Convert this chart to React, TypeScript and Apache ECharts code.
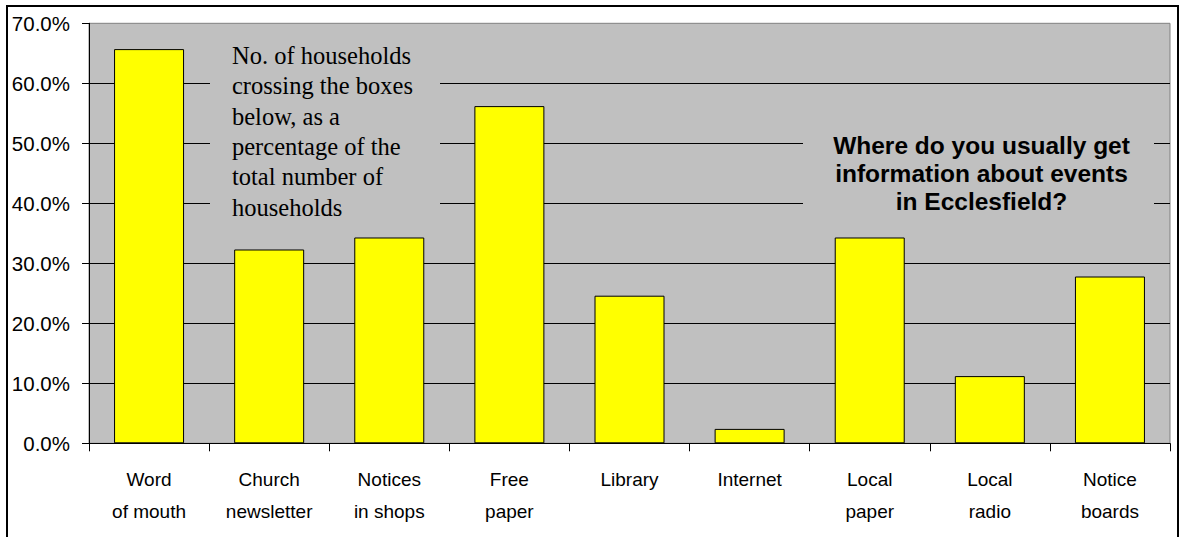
import React, { useEffect, useRef } from "react";
import * as echarts from "echarts";

const categories = [
  "Word\nof mouth",
  "Church\nnewsletter",
  "Notices\nin shops",
  "Free\npaper",
  "Library",
  "Internet",
  "Local\npaper",
  "Local\nradio",
  "Notice\nboards",
];
const percentages = [65.7, 32.3, 34.3, 56.2, 24.6, 2.4, 34.3, 11.2, 27.8];
const yMin = 0;
const yMax = 70;
const yStep = 10;
const noteLines = [
  "No. of households",
  "crossing the boxes",
  "below, as a",
  "percentage of the",
  "total number of",
  "households",
];
const titleLines = [
  "Where do you usually get",
  "information about events",
  "in Ecclesfield?",
];

export default function App() {
  const ref = useRef<HTMLDivElement>(null);
  useEffect(() => {
    if (!ref.current) return;
    const chart = echarts.init(ref.current, null, { renderer: "svg" });
    chart.setOption({
      animation: false,
      backgroundColor: "#ffffff",
      grid: {
        left: 89,
        top: 23.3,
        right: 9,
        bottom: 93.7,
        show: true,
        backgroundColor: "#C0C0C0",
        borderColor: "#808080",
        borderWidth: 1,
      },
      xAxis: {
        type: "category",
        data: categories,
        boundaryGap: true,
        axisLine: { show: true, lineStyle: { color: "#000", width: 1 } },
        axisTick: { show: true, length: 8, alignWithLabel: false, lineStyle: { color: "#000" } },
        axisLabel: {
          interval: 0,
          margin: 20,
          color: "#000",
          fontFamily: "Arial, 'Liberation Sans', sans-serif",
          fontSize: 19,
          lineHeight: 32,
        },
        splitLine: { show: false },
      },
      yAxis: {
        type: "value",
        min: yMin,
        max: yMax,
        interval: yStep,
        axisLine: { show: true, lineStyle: { color: "#000", width: 1 } },
        axisTick: { show: true, inside: false, length: 7, lineStyle: { color: "#000" } },
        axisLabel: {
          margin: 19,
          color: "#000",
          fontFamily: "Arial, 'Liberation Sans', sans-serif",
          fontSize: 20.5,
          formatter: (v: number) => v.toFixed(1) + "%",
        },
        splitLine: {
          show: true,
          showMaxLine: false,
          lineStyle: { color: "#000", width: 1 },
        },
      },
      series: [
        {
          type: "bar",
          data: percentages,
          barWidth: 70,
          z: 5,
          itemStyle: { color: "#FFFF00", borderColor: "#000", borderWidth: 1 },
        },
      ],
      graphic: [
        {
          type: "rect",
          silent: true,
          shape: { x: 210, y: 30, width: 230, height: 202 },
          style: { fill: "#C0C0C0", stroke: "none" },
          z: 3,
        },
        {
          type: "rect",
          silent: true,
          shape: { x: 803, y: 112, width: 351, height: 118 },
          style: { fill: "#C0C0C0", stroke: "none" },
          z: 3,
        },
        {
          type: "rect",
          silent: true,
          shape: { x: 7, y: 6, width: 1171, height: 545 },
          style: { fill: "none", stroke: "#000", lineWidth: 2 },
          z: 100,
        },
        {
          type: "text",
          left: 232,
          top: 40,
          style: {
            text: noteLines.join("\n"),
            font: "24.5px 'Times New Roman', 'Liberation Serif', serif",
            fill: "#000",
            lineHeight: 30.4,
            textAlign: "left",
          },
          z: 100,
        },
        {
          type: "text",
          x: 981.5,
          y: 131,
          style: {
            text: titleLines.join("\n"),
            font: "bold 24.5px Arial, 'Liberation Sans', sans-serif",
            fill: "#000",
            lineHeight: 28,
            textAlign: "center",
            textVerticalAlign: "top",
          },
          z: 100,
        },
      ],
    });
    return () => chart.dispose();
  }, []);
  return (
    <div
      ref={ref}
      style={{ position: "absolute", left: 0, top: 0, width: 1179, height: 537 }}
    />
  );
}
